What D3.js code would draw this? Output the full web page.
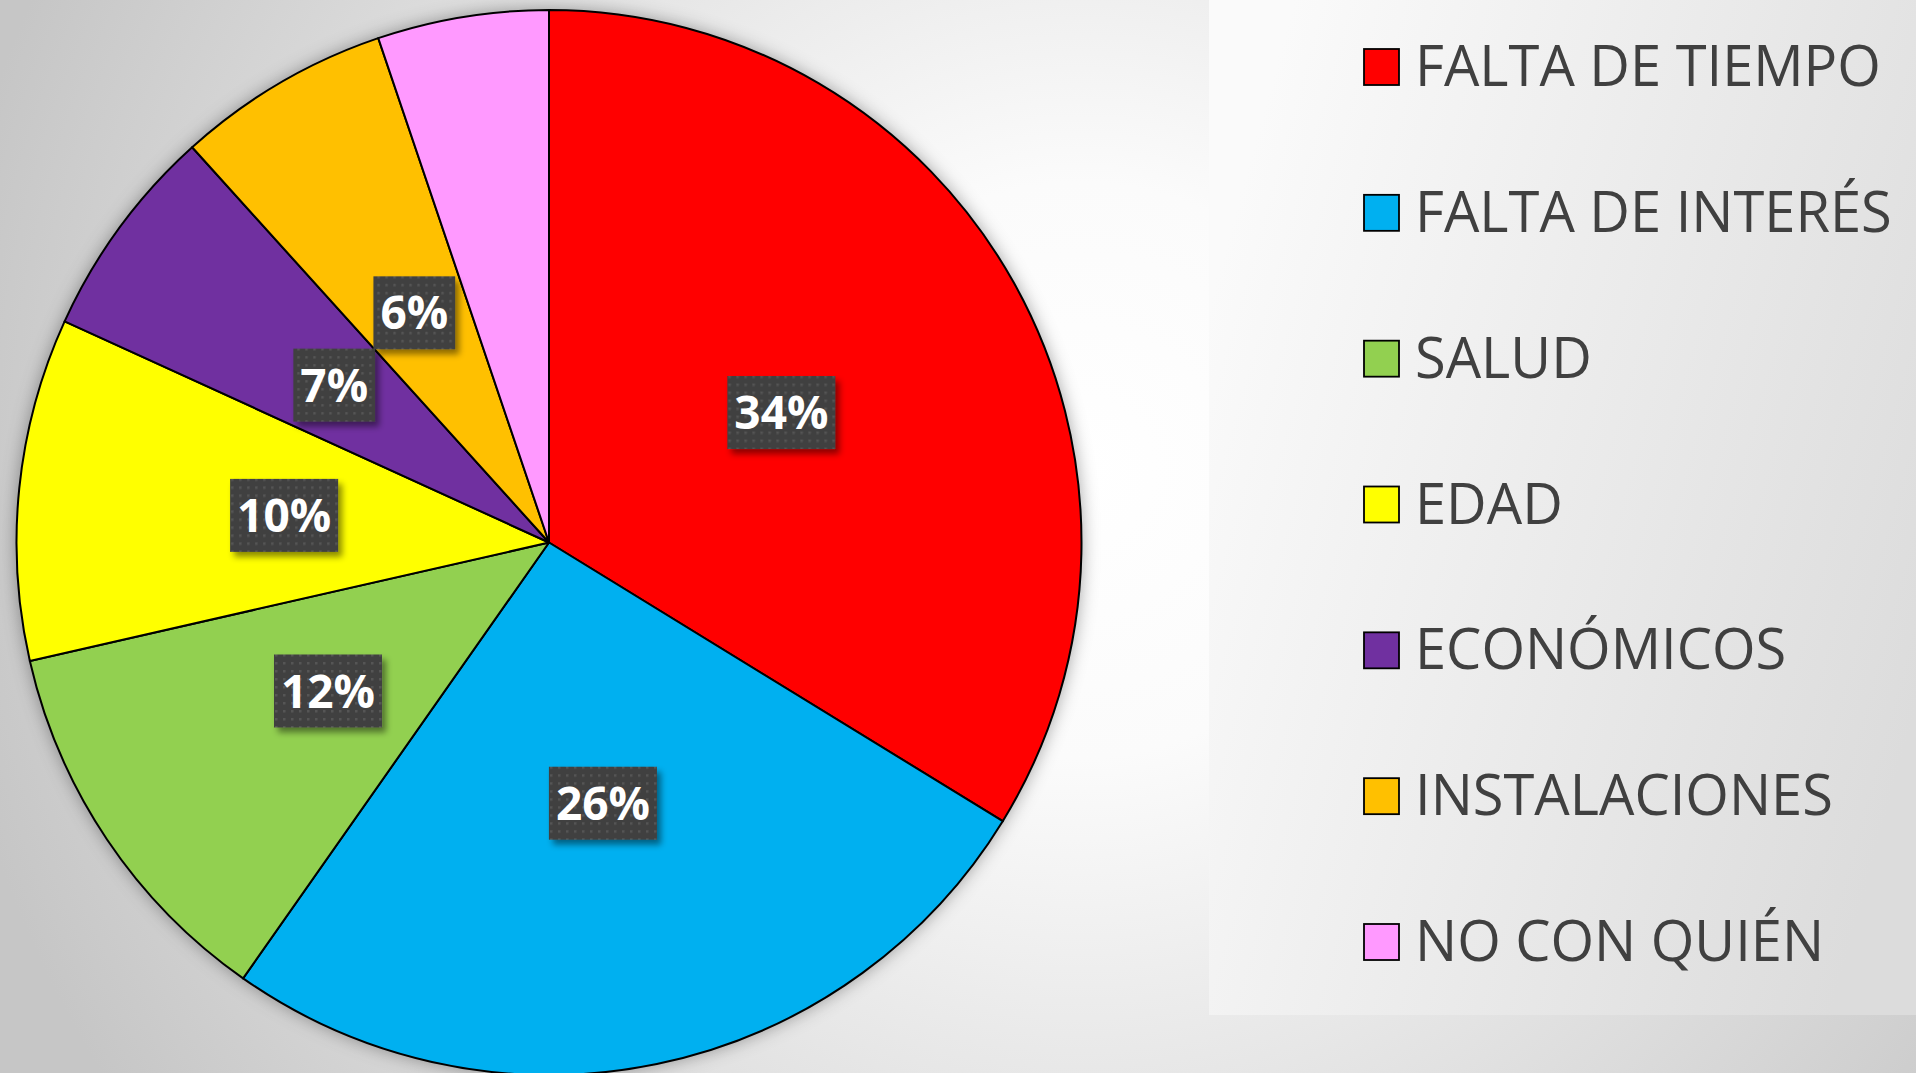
<!DOCTYPE html>
<html>
<head>
<meta charset="utf-8">
<script src="https://cdn.jsdelivr.net/npm/d3@7"></script>
<style>
  html, body { margin: 0; padding: 0; overflow: hidden; }
  svg { display: block; }
</style>
</head>
<body>
<div id="chart"></div>
<script>
// respuestas (personas) por motivo
var categories = ['FALTA DE TIEMPO', 'FALTA DE INTERÉS', 'SALUD', 'EDAD', 'ECONÓMICOS', 'INSTALACIONES', 'NO CON QUIÉN'];
var values = [26, 20, 9, 8, 5, 5, 4];
var dataLabels = ['34%', '26%', '12%', '10%', '7%', '6%', ''];
var colors = ['#FF0000', '#00B0F0', '#92D050', '#FFFF00', '#7030A0', '#FFC000', '#FF99FF'];

var width = 1916, height = 1073;
var cx = 549, cy = 542.5, radius = 532.5;

var data = categories.map(function(c, i) {
	return { name: c, value: values[i], label: dataLabels[i], color: colors[i] };
});

var svg = d3.select('#chart').append('svg')
	.attr('width', width)
	.attr('height', height);

var defs = svg.append('defs');

// fondo de la diapositiva
var bg = defs.append('radialGradient')
	.attr('id', 'bgGrad')
	.attr('gradientUnits', 'userSpaceOnUse')
	.attr('cx', 1080).attr('cy', 470).attr('r', 1150);
bg.append('stop').attr('offset', 0).attr('stop-color', '#ffffff');
bg.append('stop').attr('offset', 0.25).attr('stop-color', '#fbfbfb');
bg.append('stop').attr('offset', 1).attr('stop-color', '#c6c6c6');

var panel = defs.append('linearGradient')
	.attr('id', 'panelGrad')
	.attr('x1', 0).attr('y1', 0.3).attr('x2', 1).attr('y2', 0.7);
panel.append('stop').attr('offset', 0).attr('stop-color', '#fafafa');
panel.append('stop').attr('offset', 1).attr('stop-color', '#dcdcdc');

var pieShadow = defs.append('filter').attr('id', 'pieShadow')
	.attr('x', -0.1).attr('y', -0.1).attr('width', 1.2).attr('height', 1.2);
pieShadow.append('feDropShadow')
	.attr('dx', 0).attr('dy', 0)
	.attr('stdDeviation', 9)
	.attr('flood-color', '#000')
	.attr('flood-opacity', 0.38);

var boxShadow = defs.append('filter').attr('id', 'boxShadow')
	.attr('x', -0.2).attr('y', -0.2).attr('width', 1.5).attr('height', 1.5);
boxShadow.append('feDropShadow')
	.attr('dx', 4).attr('dy', 5)
	.attr('stdDeviation', 3)
	.attr('flood-color', '#000')
	.attr('flood-opacity', 0.45);

var dots = defs.append('pattern')
	.attr('id', 'dots')
	.attr('patternUnits', 'userSpaceOnUse')
	.attr('width', 8).attr('height', 8);
dots.append('rect').attr('width', 8).attr('height', 8).attr('fill', '#404040');
dots.append('rect').attr('x', 3).attr('y', 3).attr('width', 2.5).attr('height', 2.5).attr('fill', '#555555');

svg.append('rect')
	.attr('width', width).attr('height', height)
	.attr('fill', 'url(#bgGrad)');

svg.append('rect')
	.attr('x', 1209).attr('y', 0)
	.attr('width', width - 1209).attr('height', 1015)
	.attr('fill', 'url(#panelGrad)');

// tarta
var pie = d3.pie().sort(null).value(function(d) { return d.value; });
var arc = d3.arc().innerRadius(0).outerRadius(radius);
var arcs = pie(data);

var g = svg.append('g').attr('transform', 'translate(' + cx + ',' + cy + ')');

g.append('circle')
	.attr('r', radius)
	.attr('fill', '#fff')
	.attr('filter', 'url(#pieShadow)');

g.selectAll('path.slice').data(arcs).enter().append('path')
	.attr('class', 'slice')
	.attr('d', arc)
	.attr('fill', function(d) { return d.data.color; })
	.attr('stroke', '#000')
	.attr('stroke-width', 2)
	.attr('stroke-linejoin', 'round');

// etiquetas de datos
var labels = g.selectAll('g.lbl').data(arcs.filter(function(d) { return d.data.label; }))
	.enter().append('g')
	.attr('class', 'lbl')
	.attr('transform', function(d) { return 'translate(' + arc.centroid(d) + ')'; });

labels.append('rect').attr('class', 'box');

labels.append('text')
	.attr('text-anchor', 'middle')
	.attr('dy', '0.36em')
	.style('font-family', '"Open Sans", sans-serif')
	.style('font-weight', 'bold')
	.style('font-size', '46px')
	.attr('fill', '#fff')
	.text(function(d) { return d.data.label; });

labels.each(function() {
	var el = d3.select(this);
	var w = el.select('text').node().getComputedTextLength();
	el.select('rect.box')
		.attr('x', -(w / 2 + 7)).attr('y', -36.5)
		.attr('width', w + 14).attr('height', 73)
		.attr('fill', 'url(#dots)')
		.attr('filter', 'url(#boxShadow)');
});

// leyenda
var legend = svg.append('g').attr('transform', 'translate(1364,0)');
var rowY = d3.scalePoint().domain(categories).range([86, 961]);

var item = legend.selectAll('g.item').data(data).enter().append('g')
	.attr('class', 'item')
	.attr('transform', function(d) { return 'translate(0,' + rowY(d.name) + ')'; });

item.append('rect')
	.attr('x', 0).attr('y', -37)
	.attr('width', 35).attr('height', 36)
	.attr('fill', function(d) { return d.color; })
	.attr('stroke', '#000')
	.attr('stroke-width', 1.8);

item.append('text')
	.attr('x', 51)
	.style('font-family', '"Open Sans", sans-serif')
	.style('font-size', '56px')
	.attr('fill', '#404040')
	.text(function(d) { return d.name; });
</script>
</body>
</html>
